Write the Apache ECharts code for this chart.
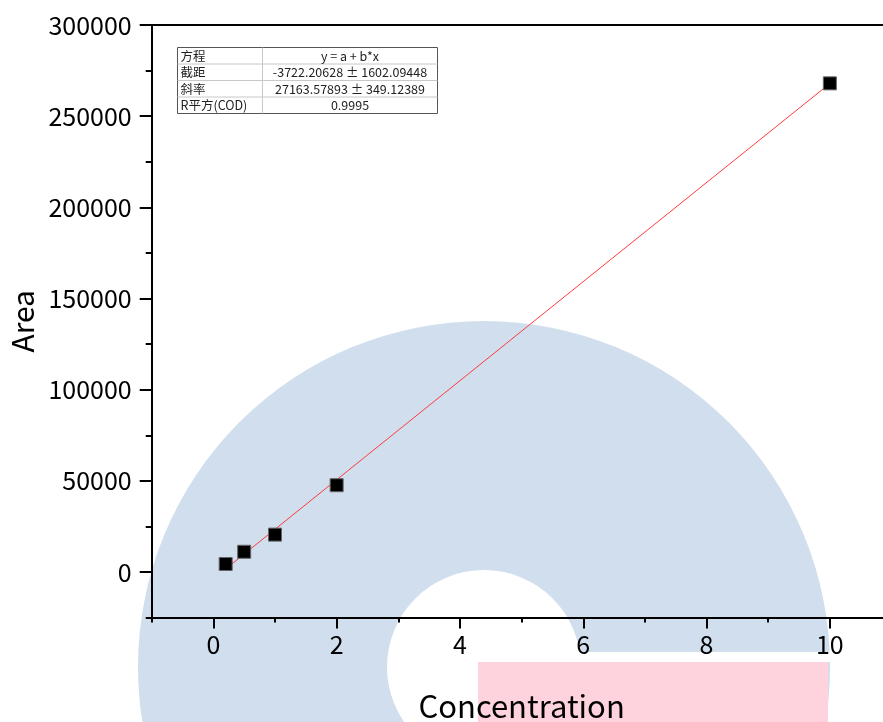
<!DOCTYPE html>
<html>
<head>
<meta charset="utf-8">
<script src="https://cdn.jsdelivr.net/npm/echarts@6/dist/echarts.min.js"></script>
<style>
html,body{margin:0;padding:0;background:#fff;}
#main{width:883px;height:722px;}
</style>
</head>
<body>
<div id="main"></div>
<script>
// Data
var concentration = [0.2, 0.5, 1, 2, 10];
var area = [4400, 11100, 20500, 47600, 268000];
var fitX = [0.2, 10];
var fitY = [1710.5, 267913.6];
var xMajorTicks = [0, 2, 4, 6, 8, 10];
var yMajorTicks = [0, 50000, 100000, 150000, 200000, 250000, 300000];
var tableRows = [
  ['方程', 'y = a + b*x'],
  ['截距', '-3722.20628 \u00B1 1602.09448'],
  ['斜率', '27163.57893 \u00B1 349.12389'],
  ['R平方(COD)', '0.9995']
];

var FONT = '"Noto Sans CJK SC", "Noto Sans", sans-serif';
var chart = echarts.init(document.getElementById('main'), null, {renderer: 'canvas'});

// layout
var G_LEFT = 151.7, G_TOP = 25, PX_X = 61.65, G_BOTTOM_Y = 617.6;
var Y0 = 572;

var graphics = [
  {type: 'ring', z: -100, shape: {cx: 484, cy: 667, r: 346, r0: 97}, style: {fill: '#d0deed'}, silent: true},
  {type: 'rect', z: -99, shape: {x: 478, y: 652, width: 405, height: 10}, style: {fill: '#ffffff'}, silent: true},
  {type: 'rect', z: -98, shape: {x: 478, y: 662, width: 350, height: 60}, style: {fill: '#ffd3dd'}, silent: true}
];
// table
var tx = 177.5, ty = 47.5, tw = 260, rh = 16.5, c1 = 262.5;
graphics.push({type: 'rect', z: 100, shape: {x: tx, y: ty, width: tw, height: rh * tableRows.length}, style: {fill: '#fff', stroke: '#555', lineWidth: 1}});
for (var i = 1; i < tableRows.length; i++) {
  graphics.push({type: 'line', z: 101, shape: {x1: tx, y1: ty + rh * i, x2: tx + tw, y2: ty + rh * i}, style: {stroke: '#c8c8c8', lineWidth: 1}});
}
graphics.push({type: 'line', z: 101, shape: {x1: c1, y1: ty, x2: c1, y2: ty + rh * tableRows.length}, style: {stroke: '#c8c8c8', lineWidth: 1}});
tableRows.forEach(function (r, i) {
  var cy = ty + rh * i + rh / 2;
  graphics.push({type: 'text', z: 102, style: {text: r[0], x: tx + 3, y: cy, font: '12.5px ' + FONT, fill: '#222', textAlign: 'left', textVerticalAlign: 'middle'}});
  graphics.push({type: 'text', z: 102, style: {text: r[1], x: (c1 + tx + tw) / 2, y: cy, font: '12.5px ' + FONT, fill: '#222', textAlign: 'center', textVerticalAlign: 'middle'}});
});

var option = {
  backgroundColor: '#fff',
  animation: false,
  textStyle: {fontFamily: FONT},
  grid: [
    {left: G_LEFT, top: G_TOP, width: 12 * PX_X, height: G_BOTTOM_Y - G_TOP, containLabel: false, outerBoundsMode: 'none'},
    {left: G_LEFT + PX_X, top: G_TOP, width: 11 * PX_X, height: G_BOTTOM_Y - G_TOP, containLabel: false, outerBoundsMode: 'none'},
    {left: G_LEFT, top: G_TOP, width: 12 * PX_X, height: Y0 - G_TOP, containLabel: false, outerBoundsMode: 'none'}
  ],
  xAxis: [
    {type: 'value', gridIndex: 0, position: 'bottom', min: -1, max: 11, interval: 1,
     axisLine: {show: true, onZero: false, lineStyle: {color: '#000', width: 2}},
     axisTick: {show: true, length: 5, lineStyle: {color: '#000', width: 2}},
     axisLabel: {show: false}, splitLine: {show: false},
     name: 'Concentration', nameLocation: 'middle', nameGap: 73,
     nameTextStyle: {fontSize: 31, color: '#000', fontFamily: FONT}},
    {type: 'value', gridIndex: 0, position: 'top', min: -1, max: 11, interval: 1,
     axisLine: {show: true, onZero: false, lineStyle: {color: '#000', width: 2}},
     axisTick: {show: false}, axisLabel: {show: false}, splitLine: {show: false}},
    {type: 'value', gridIndex: 1, position: 'bottom', min: 0, max: 11, interval: 2,
     axisLine: {show: false, onZero: false},
     axisTick: {show: true, length: 11, lineStyle: {color: '#000', width: 2}},
     axisLabel: {show: true, margin: 14, fontSize: 25, color: '#000', fontFamily: FONT,
       formatter: function (v) { return xMajorTicks.indexOf(v) >= 0 ? String(v) : ''; }},
     splitLine: {show: false}},
    {type: 'value', gridIndex: 2, show: false, min: -1, max: 11}
  ],
  yAxis: [
    {type: 'value', gridIndex: 0, position: 'left', min: -25000, max: 300000, interval: 25000,
     axisLine: {show: true, onZero: false, lineStyle: {color: '#000', width: 2}},
     axisTick: {show: true, length: 6, lineStyle: {color: '#000', width: 2}},
     axisLabel: {show: false}, splitLine: {show: false},
     name: 'Area', nameLocation: 'middle', nameGap: 114, nameRotate: 90,
     nameTextStyle: {fontSize: 30, color: '#000', fontFamily: FONT}},
    {type: 'value', gridIndex: 1, show: false, min: -25000, max: 300000},
    {type: 'value', gridIndex: 2, position: 'left', min: 0, max: 300000, interval: 50000,
     axisLine: {show: false, onZero: false},
     axisTick: {show: true, length: 12, lineStyle: {color: '#000', width: 2}},
     axisLabel: {show: true, margin: 20, fontSize: 25, color: '#000', fontFamily: FONT,
       formatter: function (v) { return yMajorTicks.indexOf(v) >= 0 ? String(v) : ''; }},
     splitLine: {show: false}}
  ],
  graphic: graphics,
  series: [
    {type: 'line', xAxisIndex: 0, yAxisIndex: 0, z: 3,
     data: fitX.map(function (x, i) { return [x, fitY[i]]; }),
     showSymbol: false, symbol: 'none',
     lineStyle: {color: '#ff3b3b', width: 1}},
    {type: 'scatter', xAxisIndex: 0, yAxisIndex: 0, z: 4,
     data: concentration.map(function (x, i) { return [x, area[i]]; }),
     symbol: 'rect', symbolSize: 13,
     itemStyle: {color: '#000', borderColor: '#666', borderWidth: 1, opacity: 1}}
  ]
};
chart.setOption(option);
</script>
</body>
</html>
